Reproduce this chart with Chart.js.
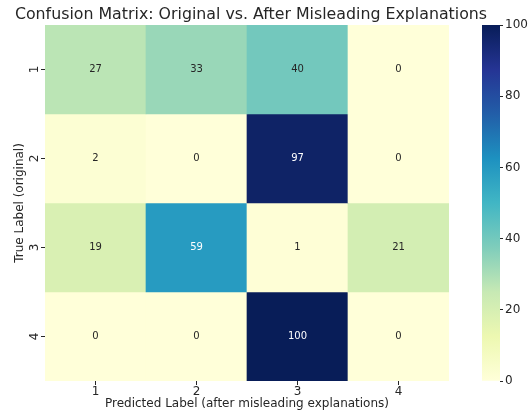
<!DOCTYPE html>
<html>
<head>
<meta charset="utf-8">
<script src="https://cdn.jsdelivr.net/npm/chart.js@4.4.1/dist/chart.umd.min.js"></script>
<style>
  html, body { margin: 0; padding: 0; background: #ffffff; }
  #wrap { position: relative; width: 532px; height: 411px; }
  #main { position: absolute; left: 0; top: 0; }
  #cbar { position: absolute; left: 460px; top: 0; }
</style>
</head>
<body>
<div id="wrap">
  <canvas id="main" width="502" height="411"></canvas>
  <canvas id="cbar" width="72" height="411"></canvas>
</div>
<script>
// ---- data ----
const predictedLabels = ['1', '2', '3', '4'];
const trueLabels = ['1', '2', '3', '4'];
const row1 = [27, 33, 40, 0];
const row2 = [2, 0, 97, 0];
const row3 = [19, 59, 1, 21];
const row4 = [0, 0, 100, 0];
const rows = [row1, row2, row3, row4];
const colorbarRange = [0, 100];
const colorbarTicks = [0, 20, 40, 60, 80, 100];

// ---- YlGnBu colormap ----
const YLGNBU = ['#ffffd9', '#edf8b1', '#c7e9b4', '#7fcdbb', '#41b6c4', '#1d91c0', '#225ea8', '#253494', '#081d58'];
function hexToRgb(h) {
  return [parseInt(h.slice(1, 3), 16), parseInt(h.slice(3, 5), 16), parseInt(h.slice(5, 7), 16)];
}
function rgbAt(v) {
  const t = Math.max(0, Math.min(1, (v - colorbarRange[0]) / (colorbarRange[1] - colorbarRange[0])));
  const n = YLGNBU.length - 1;
  const p = t * n;
  const i = Math.min(Math.floor(p), n - 1);
  const f = p - i;
  const a = hexToRgb(YLGNBU[i]), b = hexToRgb(YLGNBU[i + 1]);
  return a.map((x, k) => x + (b[k] - x) * f);
}
function cmap(v) {
  const c = rgbAt(v).map(Math.round);
  return `rgb(${c[0]},${c[1]},${c[2]})`;
}
function luminance(v) {
  const c = rgbAt(v).map(x => x / 255).map(x => x <= 0.03928 ? x / 12.92 : Math.pow((x + 0.055) / 1.055, 2.4));
  return 0.2126 * c[0] + 0.7152 * c[1] + 0.0722 * c[2];
}

const TEXT = '#262626';
const FONT = "'DejaVu Sans', sans-serif";

const datasets = rows.map((r, i) => ({
  label: 'True ' + trueLabels[i],
  data: r.map(() => [i, i + 1]),
  backgroundColor: r.map(v => cmap(v)),
  borderWidth: 0,
  borderSkipped: false,
  grouped: false,
  barPercentage: 1.0,
  categoryPercentage: 1.0
}));

const annotate = {
  id: 'annotate',
  afterDatasetsDraw(chart) {
    const ctx = chart.ctx;
    ctx.save();
    ctx.font = `10px ${FONT}`;
    ctx.textAlign = 'center';
    ctx.textBaseline = 'middle';
    rows.forEach((r, i) => {
      const meta = chart.getDatasetMeta(i);
      meta.data.forEach((bar, j) => {
        const p = bar.getProps(['x', 'y', 'base'], true);
        ctx.fillStyle = luminance(r[j]) < 0.408 ? '#ffffff' : TEXT;
        ctx.fillText(String(r[j]), p.x, (p.y + p.base) / 2);
      });
    });
    ctx.restore();
  }
};

new Chart(document.getElementById('main'), {
  type: 'bar',
  data: { labels: predictedLabels, datasets },
  plugins: [annotate],
  options: {
    responsive: false,
    animation: false,
    layout: { padding: 0 },
    plugins: {
      legend: { display: false },
      tooltip: { enabled: false },
      title: {
        display: true,
        text: 'Confusion Matrix: Original vs. After Misleading Explanations',
        color: TEXT,
        font: { family: FONT, size: 15.8, weight: 'normal' },
        padding: { top: 5, bottom: 1 }
      }
    },
    scales: {
      x: {
        type: 'category',
        offset: true,
        grid: { display: true, offset: false, drawOnChartArea: false, drawTicks: true, tickLength: 4, color: TEXT },
        border: { display: false },
        ticks: { color: TEXT, font: { family: FONT, size: 12 }, padding: 0, maxRotation: 0 },
        title: { display: true, text: 'Predicted Label (after misleading explanations)', color: TEXT, font: { family: FONT, size: 12 }, padding: { top: 0, bottom: 0 } },
        afterFit(s) { s.height = 30; }
      },
      y: {
        type: 'linear',
        min: 0,
        max: 4,
        reverse: true,
        grid: { display: true, drawOnChartArea: false, drawTicks: true, tickLength: 4, color: TEXT },
        border: { display: false },
        afterBuildTicks(s) { s.ticks = trueLabels.map((_, i) => ({ value: i + 0.5 })); },
        ticks: {
          color: TEXT,
          font: { family: FONT, size: 12 },
          padding: 2,
          minRotation: 90,
          maxRotation: 90,
          crossAlign: 'center',
          callback: (v) => trueLabels[Math.floor(v)]
        },
        title: { display: true, text: 'True Label (original)', color: TEXT, font: { family: FONT, size: 12 }, padding: { top: 13, bottom: 0 } },
        afterFit(s) { s.width = 45; }
      },
      y2: {
        type: 'linear',
        position: 'right',
        display: true,
        grid: { display: false },
        border: { display: false },
        ticks: { display: false },
        afterFit(s) { s.width = 53; }
      }
    }
  }
});

// ---- colorbar ----
new Chart(document.getElementById('cbar'), {
  type: 'bar',
  data: {
    labels: [''],
    datasets: [{
      data: [colorbarRange.slice()],
      borderWidth: 0,
      borderSkipped: false,
      barPercentage: 1.0,
      categoryPercentage: 1.0,
      backgroundColor(c) {
        const chart = c.chart;
        const ys = chart.scales.y;
        if (!ys || !chart.chartArea) return YLGNBU[0];
        const g = chart.ctx.createLinearGradient(0, ys.getPixelForValue(colorbarRange[0]), 0, ys.getPixelForValue(colorbarRange[1]));
        YLGNBU.forEach((col, i) => g.addColorStop(i / (YLGNBU.length - 1), col));
        return g;
      }
    }]
  },
  options: {
    responsive: false,
    animation: false,
    layout: { padding: { left: 22, top: 25, bottom: 30, right: 0 } },
    plugins: { legend: { display: false }, tooltip: { enabled: false } },
    scales: {
      x: { display: false, offset: true },
      y: {
        type: 'linear',
        position: 'right',
        min: colorbarRange[0],
        max: colorbarRange[1],
        afterBuildTicks(s) { s.ticks = colorbarTicks.map(v => ({ value: v })); },
        grid: { display: true, drawOnChartArea: false, drawTicks: true, tickLength: 3, color: TEXT },
        border: { display: false },
        ticks: { color: TEXT, font: { family: FONT, size: 12 }, padding: 2 },
        afterFit(s) { s.width = 32; }
      }
    }
  }
});
</script>
</body>
</html>
